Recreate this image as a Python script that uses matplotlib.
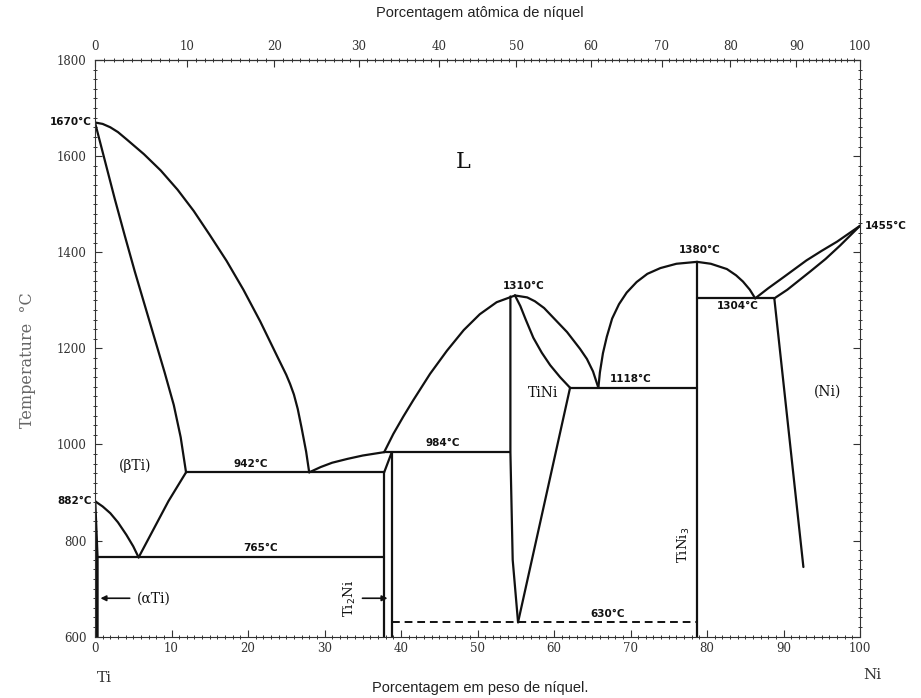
import numpy as np
import matplotlib
matplotlib.use("Agg")
import matplotlib.pyplot as plt
from matplotlib.ticker import MultipleLocator, FixedLocator

# ---------------- data (wt% Ni, temperature in C) ----------------
liq_ti_x = [0, 1.0, 2.0, 3.0, 4.2, 6.4, 8.6, 10.8, 12.9, 15.0, 17.2, 19.4, 21.6, 23.8, 25.0, 25.5, 26.0, 26.5, 27.0, 27.6, 28.0]
liq_ti_T = [1670, 1667, 1660, 1650, 1634, 1604, 1570, 1530, 1486, 1436, 1382, 1322, 1256, 1184, 1145, 1126, 1104, 1074, 1035, 985, 942]

sol_ti_x = [0, 1.3, 2.6, 3.9, 5.2, 6.5, 7.8, 9.1, 10.3, 11.2, 11.9]
sol_ti_T = [1670, 1590, 1510, 1434, 1360, 1290, 1220, 1150, 1082, 1015, 942]

beta_transus_x = [0, 1.0, 2.0, 3.0, 4.1, 5.0, 5.7]
beta_transus_T = [882, 871, 857, 838, 812, 788, 765]

beta_solvus_x = [5.7, 7.7, 9.6, 11.9]
beta_solvus_T = [765, 825, 882, 942]

alpha_x = [0, 0.3, 0.3]
alpha_T = [882, 765, 600]

liq_ti2ni_x = [28.0, 29.5, 31.0, 33.0, 35.0, 37.8]
liq_ti2ni_T = [942, 953, 962, 970, 977, 984]

ti2ni_left_x = [37.8, 38.8]
ti2ni_left_T = [942, 984]
ti2ni_left_v_x = [37.8, 37.8]
ti2ni_left_v_T = [942, 600]
ti2ni_right_x = [38.8, 38.8]
ti2ni_right_T = [984, 600]

liq_tini_left_x = [37.8, 39.0, 40.3, 41.6, 43.8, 46.0, 48.2, 50.3, 52.5, 54.9]
liq_tini_left_T = [984, 1022, 1058, 1092, 1147, 1195, 1238, 1271, 1296, 1310]

tini_left_x = [54.3, 54.3, 54.6, 55.3]
tini_left_T = [1308, 984, 760, 630]

tini_right_upper_x = [54.9, 55.6, 56.3, 57.3, 58.4, 59.5, 60.8, 62.1]
tini_right_upper_T = [1310, 1288, 1260, 1222, 1191, 1165, 1140, 1118]

tini_right_lower_x = [62.1, 55.3]
tini_right_lower_T = [1118, 630]

liq_tini_right_x = [54.9, 56.5, 57.5, 58.7, 59.9, 61.7, 63.4, 64.3, 65.1, 65.8]
liq_tini_right_T = [1310, 1306, 1298, 1284, 1264, 1234, 1199, 1178, 1152, 1118]

liq_tini3_left_x = [65.8, 66.0, 66.4, 66.9, 67.6, 68.5, 69.5, 70.8, 72.2, 73.9, 76.0, 78.7]
liq_tini3_left_T = [1118, 1150, 1190, 1224, 1262, 1292, 1316, 1338, 1355, 1367, 1376, 1380]

liq_tini3_right_x = [78.7, 80.5, 82.6, 83.8, 84.7, 85.6, 86.3]
liq_tini3_right_T = [1380, 1376, 1365, 1352, 1339, 1322, 1304]

tini3_x = [78.7, 78.7]
tini3_T = [1380, 600]

liq_ni_x = [86.3, 88.0, 90.0, 93.0, 95.0, 97.0, 100]
liq_ni_T = [1304, 1325, 1348, 1383, 1403, 1422, 1455]

sol_ni_x = [88.8, 90.5, 93.5, 95.5, 97.4, 100]
sol_ni_T = [1304, 1322, 1360, 1386, 1414, 1455]

ni_solvus_x = [88.8, 92.6]
ni_solvus_T = [1304, 745]

iso_942_x = [11.9, 37.8]
iso_765_x = [0.3, 37.8]
iso_984_x = [37.8, 54.3]
iso_1118_x = [62.1, 78.7]
iso_1304_x = [78.7, 88.8]
iso_630_x = [38.8, 78.7]

x_ticks = [0, 10, 20, 30, 40, 50, 60, 70, 80, 90, 100]
at_ticks = [0, 10, 20, 30, 40, 50, 60, 70, 80, 90, 100]
T_ticks = [600, 800, 1000, 1200, 1400, 1600, 1800]

M_NI = 58.69
M_TI = 47.87


def at_to_wt(a):
    a = np.asarray(a, dtype=float)
    return 100 * a * M_NI / (a * M_NI + (100 - a) * M_TI)


def wt_to_at(w):
    w = np.asarray(w, dtype=float)
    return 100 * (w / M_NI) / (w / M_NI + (100 - w) / M_TI)


# ---------------- figure ----------------
fig = plt.figure(figsize=(9.21, 6.98), dpi=100)
ax = fig.add_axes([95 / 921, 1 - 636.7 / 698, (860 - 95) / 921, (636.7 - 60) / 698])
ax.set_xlim(0, 100)
ax.set_ylim(600, 1800)

lc = "#111111"
lw = 1.6


def line(xs, ts, **kw):
    ax.plot(xs, ts, color=lc, lw=kw.pop("lw", lw), solid_capstyle="round",
            solid_joinstyle="round", **kw)


line(liq_ti_x, liq_ti_T)
line(sol_ti_x, sol_ti_T)
line(beta_transus_x, beta_transus_T)
line(beta_solvus_x, beta_solvus_T)
line(alpha_x, alpha_T, lw=2.0)
line(liq_ti2ni_x, liq_ti2ni_T)
line(ti2ni_left_x, ti2ni_left_T)
line(ti2ni_left_v_x, ti2ni_left_v_T)
line(ti2ni_right_x, ti2ni_right_T)
line(liq_tini_left_x, liq_tini_left_T)
line(tini_left_x, tini_left_T)
line(tini_right_upper_x, tini_right_upper_T)
line(tini_right_lower_x, tini_right_lower_T)
line(liq_tini_right_x, liq_tini_right_T)
line(liq_tini3_left_x, liq_tini3_left_T)
line(liq_tini3_right_x, liq_tini3_right_T)
line(tini3_x, tini3_T)
line(liq_ni_x, liq_ni_T)
line(sol_ni_x, sol_ni_T)
line(ni_solvus_x, ni_solvus_T)

line(iso_942_x, [942, 942])
line(iso_765_x, [765, 765])
line(iso_984_x, [984, 984])
line(iso_1118_x, [1118, 1118])
line(iso_1304_x, [1304, 1304])
ax.plot(iso_630_x, [630, 630], color=lc, lw=1.4, ls=(0, (4, 2.5)))

# ---------------- axes styling ----------------
ax.set_xticks(x_ticks)
ax.set_yticks(T_ticks)
ax.xaxis.set_minor_locator(MultipleLocator(1))
ax.yaxis.set_minor_locator(MultipleLocator(20))
ax.tick_params(which="major", direction="in", length=5, width=0.8, colors="#333333",
               top=False, right=True, labelsize=8.5)
ax.tick_params(which="minor", direction="inout", length=3, width=0.7, colors="#333333",
               top=False, right=True)
for lab in ax.get_xticklabels() + ax.get_yticklabels():
    lab.set_fontfamily("DejaVu Serif")
    lab.set_color("#333333")
ax.tick_params(axis="x", pad=4)
ax.tick_params(axis="y", pad=6)
for s in ax.spines.values():
    s.set_linewidth(0.8)
    s.set_color("#333333")

sec = ax.secondary_xaxis("top", functions=(wt_to_at, at_to_wt))
sec.set_xticks(at_ticks)
sec.xaxis.set_minor_locator(FixedLocator(list(range(0, 101))))
sec.tick_params(which="major", direction="in", length=5, width=0.8, colors="#333333",
                labelsize=8.5, pad=5)
sec.tick_params(which="minor", direction="inout", length=3, width=0.7, colors="#333333")
for lab in sec.get_xticklabels():
    lab.set_fontfamily("DejaVu Serif")
sec.spines["top"].set_linewidth(0.8)

# ---------------- labels ----------------
fig.text(480 / 921, 1 - 13 / 698, "Porcentagem atômica de níquel", ha="center", va="center",
         family="Liberation Sans", fontsize=10.5, color="#222222")
fig.text(480 / 921, 1 - 688 / 698, "Porcentagem em peso de níquel.", ha="center", va="center",
         family="Liberation Sans", fontsize=10.5, color="#222222")
fig.text(28 / 921, 1 - 360 / 698, "Temperature  °C", rotation=90, ha="center", va="center",
         family="DejaVu Serif", fontsize=11.5, color="#666666")
fig.text(104 / 921, 1 - 678 / 698, "Ti", ha="center", va="center",
         family="DejaVu Serif", fontsize=11, color="#333333")
fig.text(872 / 921, 1 - 675 / 698, "Ni", ha="center", va="center",
         family="DejaVu Serif", fontsize=11, color="#333333")

lab_kw = dict(family="DejaVu Sans", fontsize=7.5, fontweight="bold", color="#111111",
              ha="center", va="center")
ax.text(-0.4, 1670, "1670°C", ha="right", va="center", family="DejaVu Sans",
        fontsize=7.5, fontweight="bold", color="#111111", clip_on=False)
ax.text(-0.4, 882, "882°C", ha="right", va="center", family="DejaVu Sans",
        fontsize=7.5, fontweight="bold", color="#111111", clip_on=False)
ax.text(100.6, 1455, "1455°C", ha="left", va="center", family="DejaVu Sans",
        fontsize=7.5, fontweight="bold", color="#111111", clip_on=False)
ax.text(20.3, 960, "942°C", **lab_kw)
ax.text(21.6, 784, "765°C", **lab_kw)
ax.text(45.5, 1004, "984°C", **lab_kw)
ax.text(56.0, 1330, "1310°C", **lab_kw)
ax.text(70.0, 1137, "1118°C", **lab_kw)
ax.text(79.0, 1404, "1380°C", **lab_kw)
ax.text(84.0, 1288, "1304°C", **lab_kw)
ax.text(67.0, 648, "630°C", **lab_kw)

serif_kw = dict(family="DejaVu Serif", color="#111111", ha="center", va="center")
ax.text(48.1, 1588, "L", fontsize=16, **serif_kw)
ax.text(5.3, 955, "(βTi)", fontsize=10, **serif_kw)
ax.text(58.6, 1108, "TiNi", fontsize=10, **serif_kw)
ax.text(95.7, 1110, "(Ni)", fontsize=10, **serif_kw)
ax.text(77.0, 790, "TiNi$_3$", fontsize=9.5, rotation=90, **serif_kw)
ax.text(33.3, 680, "Ti$_2$Ni", fontsize=9.5, rotation=90, **serif_kw)
ax.text(7.7, 680, "(αTi)", fontsize=10, **serif_kw)

ax.annotate("", xy=(0.35, 680), xytext=(4.9, 680),
            arrowprops=dict(arrowstyle="-|>", color=lc, lw=1.2, mutation_scale=8))
ax.annotate("", xy=(38.6, 680), xytext=(34.6, 680),
            arrowprops=dict(arrowstyle="-|>", color=lc, lw=1.2, mutation_scale=8))

fig.savefig("out.png", dpi=100, facecolor="white")
